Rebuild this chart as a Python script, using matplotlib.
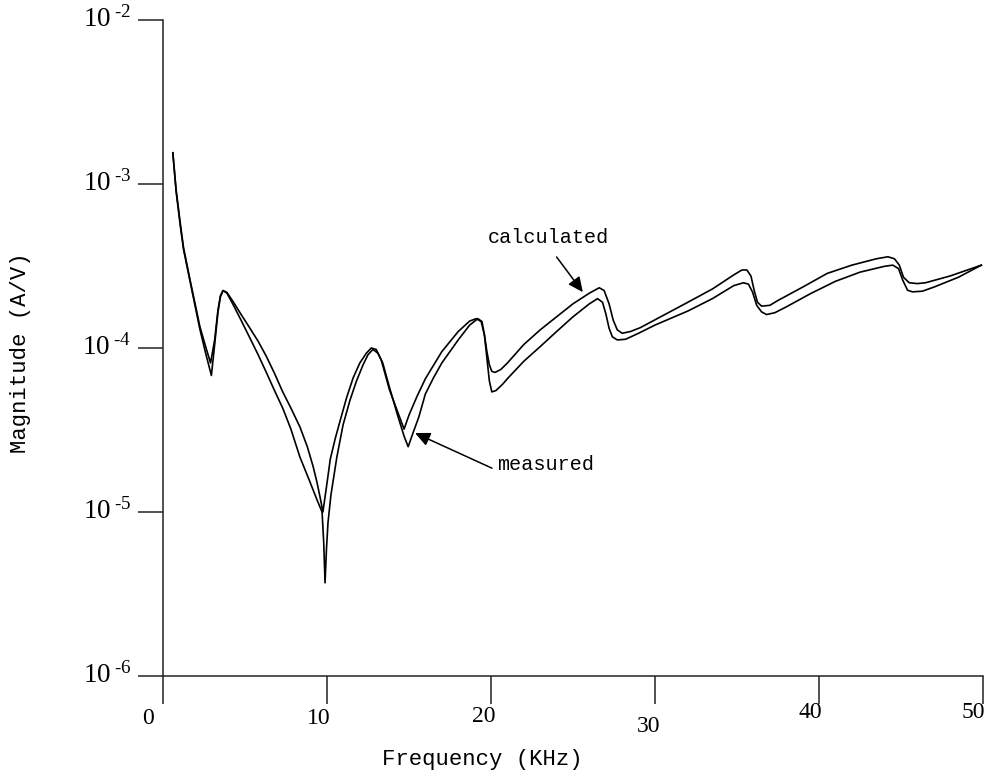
import matplotlib
matplotlib.use("Agg")
import matplotlib.pyplot as plt
from matplotlib.ticker import NullLocator
from matplotlib.transforms import ScaledTranslation

# ---------------- data ----------------
freq_calc = [0.6, 0.8, 1.05, 1.25, 1.65, 2.25, 2.6, 2.9, 3.15, 3.35,
             3.5, 3.66, 3.9, 4.3, 4.8, 5.3, 5.8, 6.3, 6.8, 7.3,
             7.8, 8.35, 8.8, 9.15, 9.4, 9.6, 9.75, 10.0, 10.2, 10.5,
             10.8, 11.2, 11.6, 12.0, 12.4, 12.7, 13.0, 13.3, 13.8, 14.3,
             14.7, 15.0, 15.5, 16.0, 17.0, 18.0, 18.7, 19.1, 19.4, 19.6,
             19.75, 19.9, 20.05, 20.25, 20.6, 21.0, 22.0, 23.0, 24.0, 25.0,
             26.0, 26.6, 26.9, 27.2, 27.45, 27.7, 28.0, 28.5, 29.1, 30.5,
             32.0, 33.5, 34.8, 35.3, 35.6, 35.85, 36.05, 36.25, 36.5, 37.0,
             37.5, 39.0, 40.5, 42.0, 43.5, 44.2, 44.6, 44.9, 45.15, 45.5,
             46.0, 46.5, 48.0, 49.9]
mag_calc = [1.55e-3, 9.2e-4, 5.8e-4, 4.1e-4, 2.6e-4, 1.35e-4, 1.02e-4, 8.1e-5, 1.12e-4, 1.7e-4,
            2.08e-4, 2.24e-4, 2.18e-4, 1.9e-4, 1.58e-4, 1.32e-4, 1.10e-4, 8.9e-5, 7.0e-5, 5.4e-5,
            4.3e-5, 3.3e-5, 2.5e-5, 1.9e-5, 1.5e-5, 1.2e-5, 1.0e-5, 1.5e-5, 2.1e-5, 2.8e-5,
            3.6e-5, 5.0e-5, 6.6e-5, 8.1e-5, 9.3e-5, 1.0e-4, 9.8e-5, 8.5e-5, 5.6e-5, 4.1e-5,
            3.2e-5, 3.9e-5, 5.1e-5, 6.5e-5, 9.5e-5, 1.26e-4, 1.46e-4, 1.51e-4, 1.45e-4, 1.2e-4,
            9.5e-5, 7.9e-5, 7.2e-5, 7.1e-5, 7.4e-5, 8.1e-5, 1.05e-4, 1.29e-4, 1.55e-4, 1.86e-4,
            2.16e-4, 2.33e-4, 2.24e-4, 1.86e-4, 1.48e-4, 1.29e-4, 1.23e-4, 1.26e-4, 1.33e-4, 1.58e-4,
            1.9e-4, 2.29e-4, 2.79e-4, 2.99e-4, 2.99e-4, 2.75e-4, 2.24e-4, 1.9e-4, 1.8e-4, 1.82e-4,
            1.95e-4, 2.35e-4, 2.85e-4, 3.2e-4, 3.5e-4, 3.6e-4, 3.5e-4, 3.2e-4, 2.7e-4, 2.5e-4,
            2.47e-4, 2.5e-4, 2.75e-4, 3.2e-4]

freq_meas = [0.6, 0.8, 1.05, 1.25, 1.65, 2.25, 2.6, 2.95, 3.15, 3.35,
             3.5, 3.66, 3.9, 4.3, 4.8, 5.3, 5.8, 6.3, 6.8, 7.3,
             7.8, 8.35, 8.9, 9.4, 9.7, 9.8, 9.88, 9.97, 10.06, 10.24,
             10.6, 10.98, 11.4, 11.8, 12.2, 12.5, 12.8, 13.1, 13.4, 13.8,
             14.3, 14.7, 14.95, 15.2, 15.6, 16.0, 16.5, 17.0, 18.0, 18.7,
             19.2, 19.45, 19.6, 19.75, 19.9, 20.05, 20.3, 20.7, 21.0, 22.0,
             23.0, 24.0, 25.0, 26.0, 26.5, 26.8, 27.0, 27.2, 27.4, 27.7,
             28.2, 29.0, 30.0, 32.0, 33.5, 34.8, 35.4, 35.7, 35.95, 36.2,
             36.5, 36.8, 37.3, 38.0, 39.5, 41.0, 42.5, 44.0, 44.5, 44.85,
             45.1, 45.4, 45.7, 46.3, 47.0, 48.5, 49.9]
mag_meas = [1.55e-3, 9.0e-4, 5.6e-4, 4.0e-4, 2.55e-4, 1.3e-4, 9.3e-5, 6.8e-5, 1.05e-4, 1.65e-4,
            2.05e-4, 2.24e-4, 2.16e-4, 1.82e-4, 1.45e-4, 1.15e-4, 9.1e-5, 7.1e-5, 5.5e-5, 4.3e-5,
            3.2e-5, 2.16e-5, 1.58e-5, 1.18e-5, 1.0e-5, 6.5e-6, 3.7e-6, 6.0e-6, 8.6e-6, 1.27e-5,
            2.16e-5, 3.4e-5, 4.8e-5, 6.3e-5, 7.9e-5, 9.1e-5, 9.8e-5, 9.3e-5, 8.1e-5, 5.8e-5,
            3.9e-5, 2.9e-5, 2.5e-5, 2.95e-5, 3.8e-5, 5.25e-5, 6.6e-5, 8.1e-5, 1.12e-4, 1.38e-4,
            1.51e-4, 1.45e-4, 1.2e-4, 8.7e-5, 6.3e-5, 5.4e-5, 5.5e-5, 6.0e-5, 6.5e-5, 8.3e-5,
            1.02e-4, 1.26e-4, 1.55e-4, 1.86e-4, 2.0e-4, 1.9e-4, 1.62e-4, 1.32e-4, 1.17e-4, 1.12e-4,
            1.13e-4, 1.23e-4, 1.38e-4, 1.68e-4, 2.0e-4, 2.4e-4, 2.5e-4, 2.45e-4, 2.19e-4, 1.82e-4,
            1.66e-4, 1.6e-4, 1.64e-4, 1.78e-4, 2.15e-4, 2.55e-4, 2.9e-4, 3.15e-4, 3.2e-4, 3.05e-4,
            2.6e-4, 2.25e-4, 2.2e-4, 2.22e-4, 2.35e-4, 2.7e-4, 3.2e-4]

x_ticks = [0, 10, 20, 30, 40, 50]
x_tick_labels = ["0", "10", "20", "30", "40", "50"]
y_ticks = [1e-6, 1e-5, 1e-4, 1e-3, 1e-2]
y_tick_labels = ["$10^{\\;\u2010 6}$", "$10^{\\;\u2010 5}$", "$10^{\\;\u2010 4}$",
                 "$10^{\\;\u2010 3}$", "$10^{\\;\u2010 2}$"]

x_label = "Frequency (KHz)"
y_label = "Magnitude (A/V)"
calc_label = "calculated"
meas_label = "measured"

# ---------------- style ----------------
plt.rcParams["mathtext.fontset"] = "custom"
plt.rcParams["mathtext.rm"] = "Liberation Serif"
plt.rcParams["mathtext.it"] = "Liberation Serif:italic"
plt.rcParams["font.family"] = ["Liberation Serif", "DejaVu Sans"]

fig = plt.figure(figsize=(9.87, 7.78), dpi=100)
ax = fig.add_axes([163 / 987, 1 - 676 / 778, 820 / 987, 656 / 778])

ax.plot(freq_calc, mag_calc, color="black", lw=1.2, solid_joinstyle="round")
ax.plot(freq_meas, mag_meas, color="black", lw=1.2, solid_joinstyle="round")

ax.set_yscale("log")
ax.set_xlim(0, 50)
ax.set_ylim(1e-6, 1e-2)
ax.yaxis.set_minor_locator(NullLocator())
ax.xaxis.set_minor_locator(NullLocator())

for s in ("top", "right"):
    ax.spines[s].set_visible(False)
for s in ("left", "bottom"):
    ax.spines[s].set_linewidth(1.1)
    ax.spines[s].set_color("#222222")

ax.set_xticks(x_ticks)
ax.set_xticklabels(x_tick_labels)
ax.set_yticks(y_ticks)
ax.set_yticklabels(y_tick_labels)
ax.tick_params(axis="x", direction="out", length=20, width=1.1, color="#222222",
               labelsize=17)
ax.tick_params(axis="y", direction="out", length=18, width=1.1, color="#222222",
               labelsize=19.5)

# per-label placement offsets (pixels) as in the reference
x_lab_dx = [-15, -8, -7, -6, -9, -10]
x_lab_dy = [42, 42, 40, 51, 37, 37]
for lbl, dx, dy in zip(ax.get_xticklabels(), x_lab_dx, x_lab_dy):
    lbl.set_verticalalignment("center")
    lbl.set_horizontalalignment("center")
    lbl.set_transform(ax.get_xaxis_transform() +
                      ScaledTranslation(dx / 100, -dy / 100, fig.dpi_scale_trans))
for lbl in ax.get_yticklabels():
    lbl.set_verticalalignment("center")
    lbl.set_horizontalalignment("right")
    lbl.set_transform(ax.get_yaxis_transform() +
                      ScaledTranslation(-32 / 100, 1 / 100, fig.dpi_scale_trans))

mono = ["Liberation Mono", "DejaVu Sans Mono"]
fig.text(482 / 987, 1 - 760 / 778, x_label, family=mono, fontsize=16,
         ha="center", va="center")
fig.text(21 / 987, 1 - 353 / 778, y_label, family=mono, fontsize=16,
         ha="center", va="center", rotation=90)

# annotations
ax.text(23.5, 4.75e-4, calc_label, family=mono, fontsize=14.5, ha="center", va="center")
ax.annotate("", xy=(25.6, 2.19e-4), xytext=(24.0, 3.59e-4),
            arrowprops=dict(arrowstyle="-|>,head_length=0.6,head_width=0.28",
                            color="black", lw=1.1, mutation_scale=15,
                            shrinkA=0, shrinkB=0))
ax.text(23.35, 1.94e-5, meas_label, family=mono, fontsize=14.5, ha="center", va="center")
ax.annotate("", xy=(15.37, 3.03e-5), xytext=(20.06, 1.85e-5),
            arrowprops=dict(arrowstyle="-|>,head_length=0.6,head_width=0.28",
                            color="black", lw=1.1, mutation_scale=15,
                            shrinkA=0, shrinkB=0))

fig.savefig("out.png", dpi=100, facecolor="white")
